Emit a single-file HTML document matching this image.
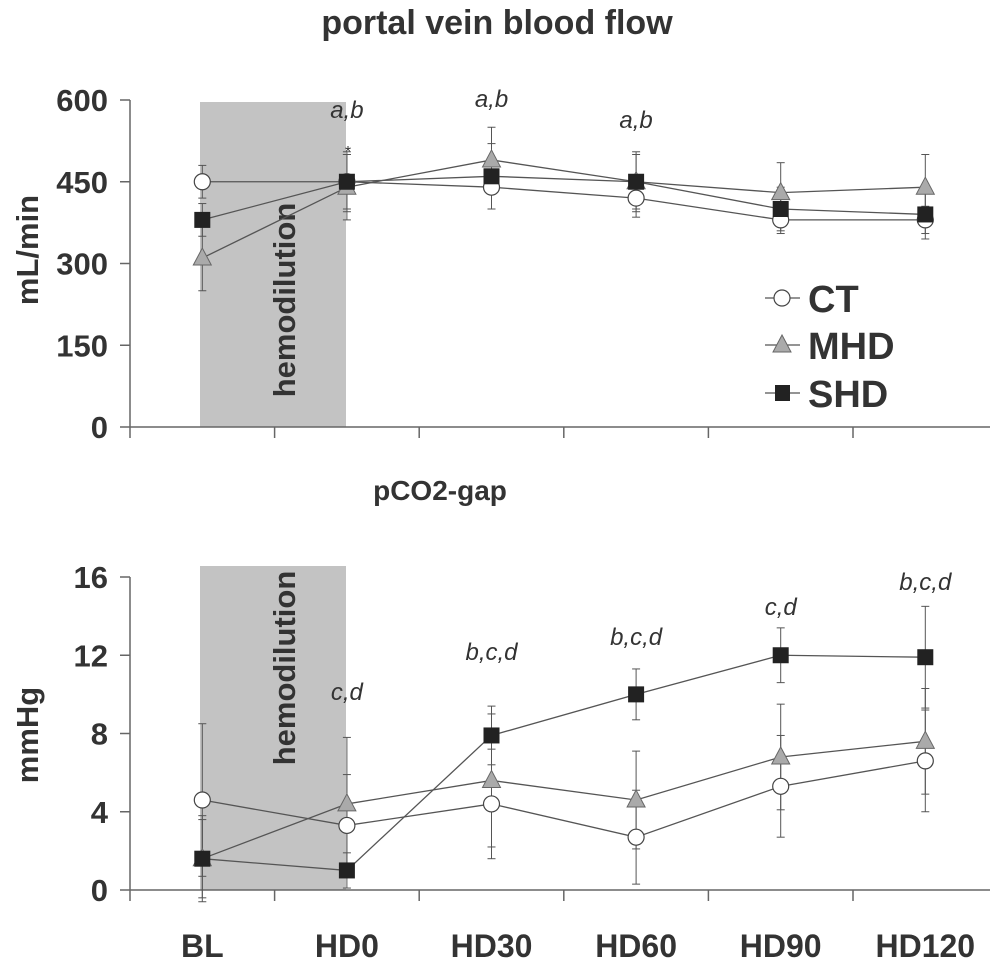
<!DOCTYPE html>
<html><head><meta charset="utf-8"><style>
body{margin:0;background:#fff}
svg text{font-family:"Liberation Sans",sans-serif}
</style></head><body>
<svg id="c" width="993" height="963" viewBox="0 0 993 963" xmlns="http://www.w3.org/2000/svg">
<text x="497" y="34" text-anchor="middle" font-size="34" font-weight="bold" fill="#333">portal vein blood flow</text>
<text x="440" y="500" text-anchor="middle" font-size="28" font-weight="bold" fill="#333">pCO2-gap</text>
</svg>
<script>
const categories=["BL","HD0","HD30","HD60","HD90","HD120"];
const topTicks=[0,150,300,450,600];
const topCT=[450,450,440,420,380,380];
const topMHD=[310,440,490,450,430,440];
const topSHD=[380,450,460,450,400,390];
const topCTerr=[30,50,40,35,25,25];
const topMHDerr=[60,60,60,50,55,60];
const topSHDerr=[30,55,60,55,40,45];
const topAnno=["","a,b","a,b","a,b","",""];
const botTicks=[0,4,8,12,16];
const botCT=[4.6,3.3,4.4,2.7,5.3,6.6];
const botMHD=[1.6,4.4,5.6,4.6,6.8,7.6];
const botSHD=[1.6,1.0,7.9,10.0,12.0,11.9];
const botCTerr=[3.9,2.6,2.8,2.4,2.6,2.6];
const botMHDerr=[2.2,3.4,3.4,2.5,2.7,2.7];
const botSHDerr=[2.0,0.9,1.5,1.3,1.4,2.6];
const botAnno=["","c,d","b,c,d","b,c,d","c,d","b,c,d"];

const NS="http://www.w3.org/2000/svg";
const svg=document.getElementById('c');
function mk(t,a,p){const e=document.createElementNS(NS,t);for(const k in a)e.setAttribute(k,a[k]);(p||svg).appendChild(e);return e;}
const x0=130,bw=144.6;
function xS(i){return x0+bw*(i+0.5);}

function panel(cfg){
  const yS=v=>cfg.y0-(v-0)/(cfg.max)*(cfg.y0-cfg.yTop);
  const g=mk('g',{});
  
  
  const sh=mk('rect',{x:200,y:cfg.shadeTop,width:146,height:cfg.y0-cfg.shadeTop,fill:'#c3c3c3'},g);
  
  
  const ht=mk('text',{x:0,y:0,transform:`translate(295,${cfg.hemoY}) rotate(-90)`,'text-anchor':'middle','font-size':31,'font-weight':'bold',fill:'#333'},g);
  ht.textContent='hemodilution';
  
  
  mk('line',{x1:x0,y1:cfg.yTop,x2:x0,y2:cfg.y0,stroke:'#666','stroke-width':1.5},g);
  mk('line',{x1:x0,y1:cfg.y0,x2:990,y2:cfg.y0,stroke:'#666','stroke-width':1.5},g);
  for(let i=0;i<=6;i++) mk('line',{x1:x0+bw*i,y1:cfg.y0,x2:x0+bw*i,y2:cfg.y0+11,stroke:'#666','stroke-width':1.5},g);
  cfg.ticks.forEach(t=>{
    mk('line',{x1:120,y1:yS(t),x2:x0,y2:yS(t),stroke:'#666','stroke-width':1.5},g);
    const tl=mk('text',{x:108,y:yS(t)+11,'text-anchor':'end','font-size':31,'font-weight':'bold',fill:'#333'},g);
    tl.textContent=t;
    
    
  });
  const yt=mk('text',{x:0,y:0,transform:`translate(38,${cfg.ytY}) rotate(-90)`,'text-anchor':'middle','font-size':31,'font-weight':'bold',fill:'#333'},g);
  yt.textContent=cfg.ytitle;
  
  
  const series=[
    {v:cfg.ct,e:cfg.cte,m:'circle',fill:'#fff',n:'ct'},
    {v:cfg.mhd,e:cfg.mhde,m:'tri',fill:'#aaa',n:'mhd'},
    {v:cfg.shd,e:cfg.shde,m:'sq',fill:'#222',n:'shd'}];
  series.forEach(s=>{
    s.v.forEach((v,i)=>{
      const x=xS(i);
      mk('line',{x1:x,y1:yS(v-s.e[i]),x2:x,y2:yS(v+s.e[i]),stroke:'#555','stroke-width':1},g);
      mk('line',{x1:x-4,y1:yS(v-s.e[i]),x2:x+4,y2:yS(v-s.e[i]),stroke:'#555','stroke-width':1},g);
      mk('line',{x1:x-4,y1:yS(v+s.e[i]),x2:x+4,y2:yS(v+s.e[i]),stroke:'#555','stroke-width':1},g);
    });
  });
  series.forEach(s=>{
    const pl=mk('polyline',{points:s.v.map((v,i)=>xS(i)+','+yS(v)).join(' '),fill:'none',stroke:'#555','stroke-width':1.3},g);
    
    
    s.v.forEach((v,i)=>{
      const x=xS(i),y=yS(v);let e;
      if(s.m=='circle') e=mk('circle',{cx:x,cy:y,r:8,fill:'#fff',stroke:'#444','stroke-width':1.2},g);
      else if(s.m=='tri') e=mk('polygon',{points:`${x},${y-10} ${x-9},${y+7} ${x+9},${y+7}`,fill:'#aaa',stroke:'#666','stroke-width':1},g);
      else e=mk('rect',{x:x-8,y:y-8,width:16,height:16,fill:'#222'},g);
      
      
    });
  });
  cfg.anno.forEach((a,i)=>{
    if(!a)return;
    const t=mk('text',{x:xS(i),y:cfg.annoY[i],'text-anchor':'middle','font-size':24,'font-style':'italic',fill:'#333'},g);
    t.textContent=a;
    
    
  });
  return yS;
}
panel({name:'top-chart',y0:427,yTop:100,max:600,shadeTop:102,hemoY:300,ytY:250,ticks:topTicks,ytitle:'mL/min',
  ct:topCT,mhd:topMHD,shd:topSHD,cte:topCTerr,mhde:topMHDerr,shde:topSHDerr,anno:topAnno,annoY:[0,118,107,128,0,0]});
panel({name:'bottom-chart',y0:890,yTop:577,max:16,shadeTop:566,hemoY:668,ytY:735,ticks:botTicks,ytitle:'mmHg',
  ct:botCT,mhd:botMHD,shd:botSHD,cte:botCTerr,mhde:botMHDerr,shde:botSHDerr,anno:botAnno,annoY:[0,700,660,645,615,590]});
const ast=mk('text',{x:348,y:157,'text-anchor':'middle','font-size':16,fill:'#333'});ast.textContent='*';


categories.forEach((c,i)=>{
  const t=mk('text',{x:xS(i),y:957,'text-anchor':'middle','font-size':32,'font-weight':'bold',fill:'#333'});
  t.textContent=c;
  
  
});
// legend
const leg=[['CT',298,'circle'],['MHD',345,'tri'],['SHD',393,'sq']];
leg.forEach(l=>{
  const g=mk('g',{});
  
  
  const y=l[1];
  mk('line',{x1:765,y1:y,x2:800,y2:y,stroke:'#555','stroke-width':1.3},g);
  if(l[2]=='circle') mk('circle',{cx:782,cy:y,r:8,fill:'#fff',stroke:'#444','stroke-width':1.2},g);
  else if(l[2]=='tri') mk('polygon',{points:`782,${y-10} 773,${y+7} 791,${y+7}`,fill:'#aaa',stroke:'#666'},g);
  else mk('rect',{x:775,y:y-8,width:15,height:16,fill:'#222'},g);
  const t=mk('text',{x:808,y:y+14,'font-size':38,'font-weight':'bold',fill:'#333'},g);
  t.textContent=l[0];
});
</script>
</body></html>
